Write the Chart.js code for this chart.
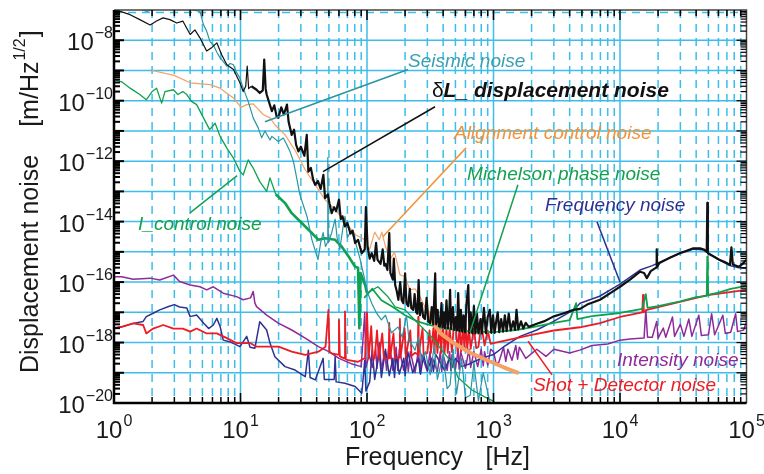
<!DOCTYPE html>
<html>
<head>
<meta charset="utf-8">
<script src="https://cdn.jsdelivr.net/npm/chart.js@4.4.0/dist/chart.umd.min.js"></script>
<style>
  html, body { margin: 0; padding: 0; background: #fff; }
</style>
</head>
<body>
<canvas id="noiseChart" width="764" height="474"></canvas>
<script>
// frequency [Hz], displacement noise [m/Hz^1/2]
const displacement = [
  [1.0,1.0e-7],[1.12,9e-8],[1.34,7e-8],[1.6,4.8e-8],[1.93,3.2e-8],[2.17,4.3e-8],[2.44,5.5e-8],[2.77,4.8e-8],
  [3.13,3.7e-8],[3.5,4.3e-8],[4.0,1.55e-8],[4.36,2.2e-8],[4.78,1.2e-8],[5.4,4.4e-9],[5.9,5.6e-9],[6.5,8.2e-9],
  [7.1,3.3e-9],[7.8,1.55e-9],[8.8,1.07e-9],[9.9,3.9e-10],[10.5,2.0e-10],[11.0,3e-10],[11.3,1.4e-9],[11.6,2.5e-10],
  [12.2,3.0e-10],[13.4,2.3e-10],[14.2,1.8e-10],[15.0,2.2e-10],[15.4,2.3e-9],[15.8,2.5e-10],[16.1,1.6e-10],
  [17.7,4.5e-11],[18.5,7e-11],[19.3,3e-11],[19.9,2.7e-11],[21,6e-11],[22,3.5e-11],[23.3,7.4e-11],[24,2e-11],
  [25.4,7.4e-12],[26.5,1.1e-11],[27.5,3.5e-12],[28.7,2.1e-12],[30,3e-12],[32,1.5e-12],[33.4,7.4e-12],[34.4,4.5e-13],
  [36,6e-13],[37.5,2.5e-13],[38.9,1.65e-13],[41,2.2e-13],[43,1.2e-13],[45.2,3.5e-13],[46.6,6e-14],[49,8e-14],
  [50.5,4e-14],[52.6,1.9e-14],[55,3e-14],[57,2.2e-14],[60,5.3e-14],[62,1.2e-14],[64,1.5e-14],[67,6.9e-15],[70,9e-15],
  [74,4e-15],[77,5e-15],[80.6,1.95e-15],[85,2.5e-15],[90.8,9e-16],[96,1.2e-15],[98,3e-14],[101,1.5e-15],
  [105,6e-16],[109,9e-16],[114,5e-16],[118,2e-15],[121,5.5e-16],[128,4e-16],[133,1.2e-15],[137,3.5e-16],[140,4e-16],
  [145,2.5e-16],[150,4.2e-15],[153,2e-16],[160,1.2e-16],[163,6e-16],[167,8e-17],[172,5e-17],[177,2.6e-17],
  [183,1e-16],[188,2.5e-17],[194,2e-17],[200,1.95e-16],[205,2e-17],[212,1.6e-17],[218,6e-17],[224,1.4e-17],
  [232,1.2e-17],[238,4e-17],[245,1e-17],[250,9e-18],[256,1.17e-16],[262,8e-18],[270,2e-17],[278,7e-18],[287,6e-18],
  [296,3e-17],[305,5e-18],[316,4.4e-18],[325,1.5e-17],[334,4e-18],[346,1.95e-16],[352,4e-18],[362,1.2e-17],
  [370,3.5e-18],[378,3.4e-18],[388,2e-17],[396,3.2e-18],[405,1e-17],[414,3e-18],[425,2.5e-17],[436,3e-18],
  [446,8e-18],[454,5.5e-17],[462,2.8e-18],[478,1.5e-17],[490,2.6e-18],[505,7e-18],[515,2.5e-18],[526,4.3e-17],
  [538,2.4e-18],[552,1.2e-17],[565,2.3e-18],[580,8e-18],[596,2.2e-18],[612,2e-17],[632,8e-17],[645,2.1e-18],
  [660,1e-17],[680,2e-18],[700,1.6e-17],[720,2e-18],[740,9e-18],[760,2e-18],[790,6e-18],[810,2e-18],[840,1.4e-17],
  [870,2.05e-18],[900,7e-18],[935,1.2e-17],[960,2.1e-18],[990,8e-18],[1020,2.1e-18],[1050,5e-18],[1080,1e-17],
  [1110,2.2e-18],[1150,6e-18],[1190,2.3e-18],[1230,8e-18],[1270,2.4e-18],[1320,9e-18],[1370,2.5e-18],[1430,5e-18],
  [1480,2.6e-18],[1520,1.2e-17],[1570,2.7e-18],[1650,5e-18],[1720,2.9e-18],[1800,4.5e-18],[1900,3.3e-18],
  [2200,4.2e-18],[2500,5e-18],[2960,7.2e-18],[3500,9e-18],[4300,1.2e-17],[4830,1.3e-17],[5500,1.8e-17],
  [6950,2.6e-17],[8500,4.5e-17],[1e4,7e-17],[1.2e4,1.2e-16],[1.44e4,2.2e-16],[1.55e4,2e-16],[1.63e4,1.35e-16],
  [1.75e4,2.3e-16],[1.93e4,3e-16],[1.95e4,1.2e-15],[1.97e4,3.2e-16],[2.05e4,4.3e-16],[2.5e4,6.5e-16],[2.97e4,9e-16],
  [3.4e4,1.1e-15],[3.8e4,1.3e-15],[4.3e4,1.3e-15],[4.6e4,1.2e-15],[4.85e4,1.0e-15],[4.9e4,4.2e-14],[4.95e4,9e-16],
  [5.5e4,7e-16],[6.1e4,5.5e-16],[6.8e4,4.5e-16],[7.4e4,3.7e-16],[7.6e4,1.4e-15],[7.8e4,3.8e-16],[8.7e4,3.2e-16],
  [9.3e4,4e-16],[1e5,5.5e-16]
];

const seismic = [
  [1.5,1.2e-7],[1.82,9e-8],[2.3,1.3e-7],[3.0,1.1e-7],[3.6,1.2e-7],[4.2,1.0e-7],[4.78,9e-8],[5.09,3.3e-8],[5.4,2e-8],
  [5.74,9e-9],[6.1,7e-9],[6.5,4e-9],[6.9,2.6e-9],[7.3,2e-9],[7.8,1.4e-9],[8.3,1.7e-9],[8.8,1.55e-9],[9.2,9.3e-10],
  [9.9,5.6e-10],[10.5,2.6e-10],[11.5,9.5e-11],[12.6,2.7e-11],[13.8,1.26e-11],[14.7,5.9e-12],[15.6,1e-11],[17.1,5e-12],
  [17.7,6.6e-12],[19.9,4.5e-12],[21.8,5.8e-12],[23.3,3.4e-12],[24.6,2.1e-12],[26.2,9.8e-13],[27.8,2.8e-13],
  [29.5,7.7e-14],[33.6,1.45e-14],[36.7,2.5e-15],[41,5.5e-16],[43,2e-15],[45,4.3e-15],[47,1.5e-15],[48.5,2e-15],
  [49,1.3e-12],[49.5,2e-15],[52.6,4.3e-15],[56,1.2e-14],[58,3e-15],[61,1.2e-15],[64,5e-15],[67,1.5e-14],[70,3e-15],
  [75,5e-15],[80,2.5e-15],[88,6e-16],[96,1.2e-16],[100,5e-17],[109,2e-17],[118,1e-17],[130,5.6e-18],[140,8e-18],
  [156,2.1e-18],[176,3.3e-18],[190,1.5e-18],[205,8e-18],[215,1.2e-18],[240,5.6e-19],[255,1.5e-18],[270,2.6e-19],
  [290,5e-19],[316,8.5e-20],[340,8e-19],[360,6e-20],[400,4e-19],[430,3e-20],[454,4e-20],[480,6e-19],[510,2e-20],
  [560,3e-19],[600,1.5e-20],[655,1.8e-20],[700,2e-19],[760,1.2e-20],[830,1e-19],[935,1.1e-20],[1000,8e-21]
];

const alignment = [
  [2.0,1e-9],[2.95,7e-10],[4.0,3.9e-10],[5.74,3.4e-10],[6.9,2.6e-10],[8.8,1.23e-10],[10.1,6e-11],[11.2,7.4e-11],
  [12.6,7.8e-11],[15.1,3.5e-11],[17.1,2.7e-11],[18.7,1.6e-11],[22.5,7.4e-12],[27,2.3e-12],[32.5,5.2e-13],
  [39,1.65e-13],[46.6,5.3e-14],[56,2.5e-14],[67,1e-14],[81,3.7e-15],[96,2.5e-15],[105,1.2e-15],[115,4.5e-15],
  [125,2.5e-15],[131,4.5e-15],[140,1.5e-15],[152,5.5e-16],[165,1e-15],[182,1.75e-16],[200,1.5e-16],[218,5.5e-17],
  [240,6e-17],[262,3.2e-17],[296,1.2e-17],[330,5e-18],[378,2.1e-18],[480,9.8e-19],[655,4.6e-19],[890,2.6e-19],
  [1190,1.55e-19],[1580,9.8e-20]
];

const iControl = [
  [1.0,5e-10],[1.15,4.2e-10],[1.34,2.6e-10],[1.6,1.6e-10],[1.8,1.07e-10],[2.0,2e-10],[2.17,2.6e-10],[2.38,8.3e-11],
  [2.53,2e-10],[2.95,2.3e-10],[3.2,1.6e-10],[3.5,2e-10],[3.76,1.6e-10],[4.1,9.5e-11],[4.5,7.4e-11],[5.1,2.7e-11],
  [5.7,1.1e-11],[6.3,1.8e-11],[6.9,6.6e-12],[7.8,2.7e-12],[8.8,1.26e-12],[9.9,4.6e-13],[10.5,3.5e-13],[11.5,1.1e-12],
  [12.6,5.9e-13],[14.2,2.1e-13],[16.1,1e-13],[17.1,2.8e-13],[19,8e-14],[22.5,4.1e-14],[25.4,1.9e-14],[28.7,1.15e-14],
  [32.5,6.9e-15],[36.6,4.2e-15],[41.3,2.5e-15],[46.6,2.8e-15],[56,2.5e-15],[63,1.5e-15],[71.5,7e-16],[80.6,3.2e-16],
  [85,3e-16],[87,3e-18],[89,2e-16],[96.6,8e-17],[100,4.3e-17],[122,7e-17],[147,3.2e-17],[167,1.5e-17],[200,1.2e-17],
  [226,7e-18],[270,3.3e-18],[325,1.5e-18],[390,5.6e-19],[470,2.1e-19],[525,7e-20],[675,2.7e-20],[850,1.6e-20],
  [980,1.2e-20],[1100,8e-21]
];

const michelson = [
  [95,3e-17],[110,6e-17],[130,2.5e-17],[160,1.5e-17],[200,8e-18],[250,5e-18],[300,4e-18],[400,3e-18],[500,2.6e-18],
  [700,2.3e-18],[1000,2.2e-18],[1500,2.6e-18],[2000,3.2e-18],[3000,4.5e-18],[4000,5.5e-18],[4500,2e-17],[4600,6e-18],
  [6000,7.5e-18],[1e4,9.5e-18],[1.5e4,1.3e-17],[1.6e4,4e-17],[1.65e4,1.4e-17],[2e4,1.6e-17],[3e4,2.3e-17],
  [4e4,3.2e-17],[4.85e4,3.5e-17],[4.9e4,7e-16],[4.95e4,3.8e-17],[6e4,4.5e-17],[7.5e4,6e-17],[1e5,7.5e-17]
];

const shotDetector = [
  [1.0,3e-18],[1.15,3.3e-18],[1.42,4.3e-18],[1.7,3.8e-18],[1.8,2e-18],[2.04,2.9e-18],[2.45,3.8e-18],[2.95,2.9e-18],
  [3.5,2.9e-18],[4.0,2.3e-18],[4.5,2.9e-18],[5.4,2e-18],[6.5,2e-18],[7.8,1.4e-18],[9.3,9.6e-19],[11.9,9.6e-19],
  [13.4,7.3e-19],[16.1,7.3e-19],[20,7.3e-19],[25.4,5e-19],[32.5,3.9e-19],[41.3,5e-19],[47,7.3e-19],[49.6,1.2e-17],
  [50.5,5e-19],[52.6,4.4e-19],[59,4e-19],[60,5.6e-18],[61,3.5e-19],[66,3e-19],[67,1.07e-17],[68,2.8e-19],
  [71.5,2.6e-19],[85,2.3e-19],[96.6,3.1e-19],[100,1e-17],[103,3e-19],[108,3.5e-18],[111,3e-19],[115,3e-19],
  [120,2.5e-18],[124,3e-19],[132,2e-18],[136,3e-19],[148,3e-19],[150,4.5e-18],[152,3e-19],[162,2e-18],[166,3.1e-19],
  [180,3.2e-19],[182,6e-18],[184,3.3e-19],[198,3e-18],[203,3.4e-19],[220,2.5e-18],[225,3.6e-19],[240,4.6e-19],
  [252,4e-19],[254,7e-18],[256,4e-19],[275,3e-18],[280,4.2e-19],[300,4.5e-19],[312,2.5e-18],[320,4.5e-19],
  [335,3e-18],[342,4.5e-19],[350,4e-18],[360,4.5e-19],[375,3e-18],[385,4.5e-19],[398,5e-18],[410,4.4e-19],
  [425,3e-18],[435,4.6e-19],[450,3e-18],[470,4.8e-19],[485,4e-18],[500,5e-18],[520,5e-19],[540,3.5e-18],
  [555,5.2e-19],[575,4e-18],[590,5.5e-19],[600,6e-18],[620,6e-19],[640,3e-18],[660,6.2e-19],[700,3e-18],
  [730,6.5e-19],[760,7.2e-19],[800,4e-18],[850,8e-19],[900,2.5e-18],[950,9e-19],[1000,9.6e-19],[2000,1.8e-18],
  [3000,2.5e-18],[4830,3.2e-18],[6950,4.4e-18],[1e4,7e-18],[1.5e4,1e-17],[1.52e4,3.8e-17],[1.54e4,1e-17],
  [1.63e4,1.2e-17],[2.97e4,2.2e-17],[4.85e4,3.6e-17],[4.9e4,8e-17],[4.95e4,3.7e-17],[1e5,5.5e-17]
];

const frequencyNoise = [
  [1.0,3e-18],[1.15,3.3e-18],[1.42,4.3e-18],[1.7,5e-18],[1.8,7.2e-18],[2.04,9.3e-18],[2.3,1.2e-17],[2.7,1.55e-17],
  [3.0,1.8e-17],[3.3,1.5e-17],[3.76,1.4e-17],[4.0,7.2e-18],[4.5,8.1e-18],[5.1,4.4e-18],[5.6,2.9e-18],[6.1,3.8e-18],
  [6.5,6.3e-18],[6.9,3.4e-18],[7.3,1.2e-18],[8.2,1.07e-18],[9.9,7.3e-19],[11.2,1.6e-18],[11.9,7e-19],[13.0,6.5e-19],
  [14.2,4.9e-18],[16.1,2.6e-18],[17.1,9.6e-19],[18.7,3.4e-19],[22.5,1.6e-19],[27,1.23e-19],[32.5,7.4e-20],
  [34.4,5.6e-19],[35.5,7e-20],[39,5.8e-20],[45,3e-19],[46,6e-20],[55,6e-20],[56,3.4e-19],[57,5e-20],[67,4.5e-20],
  [80.6,3.5e-20],[91,2.1e-20],[96,2.6e-19],[98,2.5e-20],[105,5e-20],[110,6e-19],[115,6e-20],[125,5e-19],[130,7e-20],
  [140,6e-19],[150,8e-20],[160,3e-19],[165,7e-20],[170,4e-19],[180,9e-20],[195,3e-19],[200,8e-20],[210,5e-19],
  [230,1e-19],[255,3e-19],[265,9e-20],[280,4e-19],[300,1.2e-19],[325,3e-19],[335,1.1e-19],[350,4e-19],[410,1.2e-19],
  [450,3e-19],[470,1.5e-19],[500,3e-19],[560,1.6e-19],[650,2e-19],[800,3e-19],[1000,4e-19],[1190,7e-19],
  [1620,1.6e-18],[2200,2.6e-18],[2960,4.9e-18],[4300,1.2e-17],[4830,2e-17],[6900,3.4e-17],[1e4,8.5e-17],
  [1.44e4,2.5e-16],[1.8e4,3.5e-16],[2.05e4,4.5e-16],[2.97e4,9e-16],[3.8e4,1.25e-15],[4.6e4,1.15e-15],[6.1e4,5.3e-16],
  [7.4e4,3.5e-16],[8.7e4,3e-16],[1e5,2.8e-16]
];

const intensity = [
  [1.0,1.5e-16],[1.15,1.5e-16],[1.42,1.25e-16],[1.93,1.35e-16],[2.3,1.17e-16],[2.95,1.7e-16],[3.3,1.05e-16],[4,8e-17],
  [4.78,7e-17],[5.4,5.5e-17],[6.1,7e-17],[7.3,4.3e-17],[9.3,3.3e-17],[10.5,2.6e-17],[12.0,3e-17],[12.6,4.9e-17],
  [13.0,2e-17],[13.4,1.55e-17],[16.1,8.1e-18],[19.9,4.4e-18],[25.4,2.6e-18],[32.5,1.4e-18],[41.3,7.3e-19],[50,5e-19],
  [60,3e-19],[75,2e-19],[90,1.6e-19],[96,1e-17],[98,1.5e-19],[104,4e-19],[110,1.5e-19],[117,6e-19],[120,1.4e-19],
  [125,1e-18],[130,1.3e-19],[138,5e-19],[143,1.2e-19],[150,1.1e-18],[160,1.2e-19],[170,7e-19],[175,1.2e-19],
  [180,6e-19],[195,1.2e-19],[205,5e-19],[212,1.1e-19],[220,5e-19],[240,1e-19],[255,6e-19],[262,1e-19],[270,4e-19],
  [300,1.1e-19],[315,5e-19],[322,1.1e-19],[330,3e-19],[360,1.1e-19],[380,5e-19],[390,1.1e-19],[400,4e-19],
  [430,1.2e-19],[450,5e-19],[460,1.2e-19],[470,4e-19],[500,1.3e-19],[525,6e-19],[535,1.3e-19],[550,5e-19],
  [600,1.4e-19],[640,6e-19],[660,1.5e-19],[700,5e-19],[750,1.6e-19],[800,6e-19],[830,1.7e-19],[850,5e-19],
  [900,1.8e-19],[950,6e-19],[1000,5e-19],[1050,2e-19],[1100,2.2e-19],[1200,7e-19],[1250,2.4e-19],[1300,6e-19],
  [1400,2.6e-19],[1500,8e-19],[1550,2.8e-19],[1600,7e-19],[1800,3e-19],[2200,6e-19],[2600,3.5e-19],[3000,6e-19],
  [4000,4.5e-19],[4800,5.6e-19],[6000,8e-19],[8000,9e-19],[1e4,1.2e-18],[1.2e4,1.3e-18],[1.55e4,1.4e-18],
  [1.6e4,1.2e-17],[1.65e4,1.5e-18],[1.8e4,1.5e-18],[1.95e4,5e-18],[2e4,1.4e-18],[2.2e4,3e-18],[2.3e4,1.5e-18],
  [2.6e4,7e-18],[2.7e4,1.6e-18],[3e4,4e-18],[3.2e4,1.6e-18],[3.5e4,6e-18],[3.7e4,1.6e-18],[4.2e4,8e-18],
  [4.4e4,1.7e-18],[5e4,1.8e-18],[5.3e4,9e-18],[5.6e4,1.8e-18],[6.5e4,8e-18],[6.8e4,2e-18],[7.5e4,2.2e-18],
  [8.2e4,9e-18],[8.5e4,2.3e-18],[9.5e4,2.6e-18],[1e5,5e-18]
];

const xDecades = [0, 1, 2, 3, 4, 5];
const yLabelDecades = [-20, -18, -16, -14, -12, -10, -8];

const FONT = '"Liberation Sans", Arial, Helvetica, sans-serif';
const GRID = '#3dbde9';

// curve labels, anchored in data space [freq, value]
const notes = [
  { text: 'Seismic noise', color: '#3a9fae', at: [211, 1.95e-9] },
  { text: 'Alignment control noise', color: '#f39237', at: [487, 8.1e-12] },
  { text: 'Michelson phase noise', color: '#12a150', at: [618, 3.5e-13] },
  { text: 'Frequency noise', color: '#2e3192', at: [2550, 3.3e-14] },
  { text: 'I_control noise', color: '#12a150', at: [1.55, 7.8e-15] },
  { text: 'Intensity noise', color: '#8e2a9a', at: [9470, 2.6e-19] },
  { text: 'Shot + Detector noise', color: '#ed1c24', at: [2050, 3.6e-20] }
];
const leaders = [
  { color: '#2a95a3', from: [211, 1.07e-9], to: [15.6, 2e-11] },
  { color: '#111111', from: [345, 6.3e-11], to: [44.9, 4.5e-13] },
  { color: '#f39237', from: [607, 2.75e-12], to: [134, 3.2e-15] },
  { color: '#12a150', from: [1560, 1.66e-13], to: [652, 2.2e-18] },
  { color: '#2e3192', from: [6580, 9.8e-15], to: [1e4, 1e-16] },
  { color: '#12a150', from: [3.99, 1.95e-14], to: [9.4, 3.3e-13] },
  { color: '#ed1c24', from: [2900, 8.5e-20], to: [1875, 1.1e-18] }
];

const toXY = arr => arr.map(p => ({ x: p[0], y: p[1] }));

function line(label, data, color, width, extra) {
  return Object.assign({
    label, data: toXY(data), borderColor: color, borderWidth: width,
    pointRadius: 0, tension: 0, fill: false, borderJoinStyle: 'round', clip: 0
  }, extra || {});
}

const datasets = [
  line('dL displacement noise', displacement, '#111111', 1.2,
       { segment: { borderWidth: c => c.p0.parsed.x > 12 ? 2.2 : 1.2 } }),
  line('Seismic noise', seismic, '#2a95a3', 1.2),
  line('Alignment control noise', alignment, '#f5a064', 1.2,
       { segment: { borderWidth: c => c.p0.parsed.x > 280 ? 4 : 1.2 } }),
  line('I_control noise', iControl, '#0ea24e', 1.2,
       { segment: { borderWidth: c => c.p0.parsed.x < 97 && c.p0.parsed.x > 18 ? 2.6 : 1.3 } }),
  line('Michelson phase noise', michelson, '#0ea24e', 1.8),
  line('Shot + Detector noise', shotDetector, '#ed1c24', 1.8),
  line('Frequency noise', frequencyNoise, '#2e3192', 1.5),
  line('Intensity noise', intensity, '#8e2a9a', 1.5)
];

function drawPow(ctx, px, baseY, exp, align) {
  const base = '10', sup = exp < 0 ? '\u2212' + (-exp) : String(exp);
  ctx.font = '24px ' + FONT;
  const wb = ctx.measureText(base).width;
  ctx.font = '16px ' + FONT;
  const ws = ctx.measureText(sup).width;
  let left = align === 'right' ? px - wb - ws - 1 : px - (wb + ws + 1) / 2;
  ctx.textAlign = 'left';
  ctx.font = '24px ' + FONT;
  ctx.fillText(base, left, baseY);
  ctx.font = '16px ' + FONT;
  ctx.fillText(sup, left + wb + 1, baseY - 12);
}

const framePlugin = {
  id: 'frame',
  beforeDatasetsDraw(chart) {
    const { ctx, chartArea: a, scales: { x, y } } = chart;
    ctx.save();
    ctx.strokeStyle = GRID;
    ctx.lineWidth = 1.5;
    for (let e = 0; e < 5; e++) {
      for (let k = 1; k <= 9; k++) {
        const f = k * Math.pow(10, e);
        if (f <= 1) continue;
        const px = x.getPixelForValue(f);
        ctx.setLineDash(k === 1 ? [] : [8, 6]);
        ctx.beginPath(); ctx.moveTo(px, a.top); ctx.lineTo(px, a.bottom); ctx.stroke();
      }
    }
    ctx.setLineDash([]);
    for (let e = -19; e <= -8; e++) {
      const py = y.getPixelForValue(Math.pow(10, e));
      ctx.beginPath(); ctx.moveTo(a.left, py); ctx.lineTo(a.right, py); ctx.stroke();
    }
    ctx.setLineDash([8, 6]);
    ctx.beginPath(); ctx.moveTo(a.left, a.top + 2.5); ctx.lineTo(a.right, a.top + 2.5); ctx.stroke();
    ctx.restore();
  },
  afterDatasetsDraw(chart) {
    const { ctx, chartArea: a, scales: { x, y } } = chart;
    ctx.save();
    ctx.setLineDash([]);

    // frame
    ctx.strokeStyle = '#444';
    ctx.lineWidth = 1.5;
    ctx.beginPath(); ctx.moveTo(a.left, a.top); ctx.lineTo(a.right, a.top); ctx.lineTo(a.right, a.bottom); ctx.stroke();
    ctx.strokeStyle = '#000';
    ctx.lineWidth = 2.5;
    ctx.beginPath(); ctx.moveTo(a.left, a.top); ctx.lineTo(a.left, a.bottom); ctx.lineTo(a.right, a.bottom); ctx.stroke();

    // tick marks
    ctx.lineWidth = 1.5;
    for (let e = 0; e < 5; e++) {
      for (let k = 1; k <= 9; k++) {
        const px = x.getPixelForValue(k * Math.pow(10, e));
        const len = k === 1 ? 10 : 6;
        ctx.beginPath();
        ctx.moveTo(px, a.bottom); ctx.lineTo(px, a.bottom - len);
        ctx.moveTo(px, a.top); ctx.lineTo(px, a.top + len);
        ctx.stroke();
      }
    }
    for (let e = -20; e < -7; e++) {
      for (let k = 1; k <= 9; k++) {
        const py = y.getPixelForValue(k * Math.pow(10, e));
        const len = k === 1 ? 10 : 6;
        ctx.lineWidth = 2;
        ctx.beginPath(); ctx.moveTo(a.left, py); ctx.lineTo(a.left + len, py); ctx.stroke();
        ctx.lineWidth = 1.2;
        ctx.beginPath(); ctx.moveTo(a.right, py); ctx.lineTo(a.right - len, py); ctx.stroke();
      }
    }

    // tick labels
    ctx.fillStyle = '#1a1a1a';
    ctx.textBaseline = 'alphabetic';
    xDecades.forEach(e => drawPow(ctx, x.getPixelForValue(Math.pow(10, e)), a.bottom + 35, e, 'center'));
    yLabelDecades.forEach(e => drawPow(ctx, a.left - 1, y.getPixelForValue(Math.pow(10, e)) + 10, e, 'right'));

    // axis titles
    ctx.font = '25px ' + FONT;
    ctx.textAlign = 'left';
    ctx.fillText('Frequency', a.left + 231, a.bottom + 62);
    ctx.textAlign = 'right';
    ctx.fillText('[Hz]', a.left + 416, a.bottom + 62);

    ctx.save();
    ctx.translate(38, a.bottom - 30);
    ctx.rotate(-Math.PI / 2);
    ctx.textAlign = 'left';
    let cx = 0;
    ctx.font = '25px ' + FONT;
    ctx.fillText('Displacement noise', cx, 0);
    cx += ctx.measureText('Displacement noise').width + 28;
    ctx.fillText('[m/Hz', cx, 0);
    cx += ctx.measureText('[m/Hz').width + 1;
    ctx.font = '16px ' + FONT;
    ctx.fillText('1/2', cx, -13);
    cx += ctx.measureText('1/2').width + 1;
    ctx.font = '25px ' + FONT;
    ctx.fillText(']', cx, 0);
    ctx.restore();

    // leader lines
    ctx.lineWidth = 1.5;
    leaders.forEach(l => {
      ctx.strokeStyle = l.color;
      ctx.beginPath();
      ctx.moveTo(x.getPixelForValue(l.from[0]), y.getPixelForValue(l.from[1]));
      ctx.lineTo(x.getPixelForValue(l.to[0]), y.getPixelForValue(l.to[1]));
      ctx.stroke();
    });

    // curve labels
    ctx.textAlign = 'left';
    ctx.textBaseline = 'middle';
    ctx.font = 'italic 19px ' + FONT;
    notes.forEach(n => {
      ctx.fillStyle = n.color;
      ctx.fillText(n.text, x.getPixelForValue(n.at[0]), y.getPixelForValue(n.at[1]));
    });
    const dx = x.getPixelForValue(326), dy = y.getPixelForValue(2e-10);
    ctx.fillStyle = '#111';
    ctx.font = '21px ' + FONT;
    ctx.fillText('\u03B4', dx, dy);
    const wd = ctx.measureText('\u03B4').width;
    ctx.font = 'italic bold 21px ' + FONT;
    ctx.fillText('L_ displacement noise', dx + wd, dy);

    ctx.restore();
  }
};

new Chart(document.getElementById('noiseChart').getContext('2d'), {
  type: 'line',
  data: { datasets },
  options: {
    responsive: false,
    animation: false,
    layout: { padding: { left: 114, right: 17.5, top: 10, bottom: 71 } },
    plugins: { legend: { display: false }, tooltip: { enabled: false } },
    scales: {
      x: { type: 'logarithmic', min: 1, max: 1e5, display: false },
      y: { type: 'logarithmic', min: 1e-20, max: 1e-7, display: false }
    }
  },
  plugins: [framePlugin]
});
</script>
</body>
</html>
